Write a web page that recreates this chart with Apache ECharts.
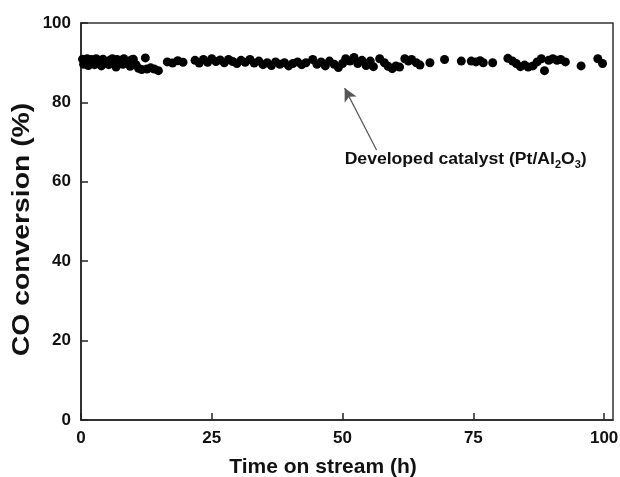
<!DOCTYPE html>
<html><head><meta charset="utf-8">
<script src="https://cdn.jsdelivr.net/npm/echarts@6/dist/echarts.min.js"></script>
<style>html,body{margin:0;padding:0;background:#fff}#c{width:620px;height:477px}</style>
</head><body><div id="c"></div>
<script>
var timeHours = [0.3,0.8,1.2,1.6,2.0,2.4,2.9,3.3,3.7,4.2,4.6,5.1,5.5,6.0,6.4,6.9,7.3,7.8,8.2,8.7,9.1,9.6,10.0,
  0.5,1.4,2.6,3.9,5.3,6.7,8.0,9.4,
  10.5,11.0,11.6,12.3,12.6,13.3,14.0,14.8,
  16.5,17.5,18.5,19.5,
  21.8,22.6,23.4,24.2,25.0,25.8,26.6,27.4,28.2,29.0,29.8,30.6,31.4,32.3,33.1,34.0,34.8,
  35.6,36.4,37.2,38.0,38.9,39.7,40.5,41.4,42.2,43.0,
  44.3,45.1,45.9,46.7,47.5,48.4,49.2,50.0,
  50.6,51.4,52.2,52.9,53.7,54.5,55.3,55.9,57.1,58.0,58.7,59.5,60.2,60.9,61.9,62.6,63.2,64.1,64.8,66.7,69.5,72.7,
  74.6,75.5,76.3,76.9,78.7,81.6,82.5,83.2,84.0,84.8,85.5,86.4,87.2,88.0,88.6,89.4,90.2,91.0,91.7,92.6,95.6,98.8,99.7];
var coConversion = [90.9,90.3,91.0,90.2,90.8,90.0,91.0,90.4,89.9,90.9,90.3,89.8,90.6,91.0,90.1,90.8,89.9,90.5,91.0,90.2,89.8,90.7,90.9,
  89.6,89.3,89.5,89.2,89.5,88.9,89.6,89.1,
  89.5,88.6,88.3,91.2,88.4,88.7,88.4,88.0,
  90.2,89.9,90.5,90.1,
  90.6,89.9,90.8,90.1,91.0,90.3,90.7,90.0,90.8,90.3,89.8,90.6,90.1,90.8,89.9,90.4,89.5,
  90.0,89.3,90.2,89.6,90.0,89.2,89.8,90.2,89.5,90.0,
  90.8,89.6,90.2,89.2,90.4,89.6,88.8,89.8,
  91.0,90.4,91.3,89.8,90.6,89.3,90.4,89.0,91.0,90.0,89.1,88.5,89.2,88.9,91.0,90.4,90.8,90.0,89.4,90.0,90.8,90.4,
  90.4,90.2,90.5,90.0,90.0,91.1,90.4,89.8,89.0,89.4,88.9,89.2,90.2,91.0,88.0,90.6,91.0,90.6,90.8,90.2,89.2,91.0,89.8];
var xTicks = [0,25,50,75,100];
var yTicks = [0,20,40,60,80,100];
var yTitle = 'CO conversion (%)';
var xTitle = 'Time on stream (h)';
var noteText = 'Developed catalyst (Pt/Al';
var arrowFrom = [56.5,68];
var arrowTo = [50.4,83.6];
var notePos = [50.4,65.5];

var pts = timeHours.map(function(t,i){return [t, coConversion[i]];});
var chart = echarts.init(document.getElementById('c'), null, {renderer:'canvas'});
var F = '"Liberation Sans", Arial, sans-serif';
chart.setOption({
  animation:false,
  backgroundColor:'#fff',
  grid:{left:81,right:7,top:23,bottom:57,containLabel:false,outerBoundsMode:'none',
    show:true,borderColor:'#333',borderWidth:1.5,backgroundColor:'transparent'},
  xAxis:{type:'value',min:0,max:101.7,interval:25,
    name:xTitle,nameLocation:'middle',nameGap:37,
    nameTextStyle:{fontFamily:F,fontWeight:'bold',fontSize:21,color:'#111',padding:[0,48,0,0]},
    axisLine:{show:true,lineStyle:{color:'#222',width:1.5}},
    axisTick:{show:true,inside:true,length:7,lineStyle:{color:'#222',width:1.5}},
    axisLabel:{fontFamily:F,fontWeight:'bold',fontSize:17,color:'#111',margin:10,showMaxLabel:false,
      formatter:function(v){return xTicks.indexOf(v)>=0?String(v):'';}},
    splitLine:{show:false}},
  yAxis:{type:'value',min:0,max:100,interval:20,
    axisLine:{show:true,lineStyle:{color:'#222',width:1.5}},
    axisTick:{show:true,inside:true,length:7,lineStyle:{color:'#222',width:1.5}},
    axisLabel:{fontFamily:F,fontWeight:'bold',fontSize:17,color:'#111',margin:10,
      formatter:function(v){return yTicks.indexOf(v)>=0?String(v):'';}},
    splitLine:{show:false}},
  series:[{type:'scatter',data:pts,symbol:'circle',symbolSize:9,
    itemStyle:{color:'#000',opacity:1},
    markLine:{silent:true,symbol:['none','arrow'],symbolSize:[10,13],
      lineStyle:{color:'#555',width:1.2,type:'solid'},label:{show:false},
      data:[[{coord:arrowFrom},{coord:arrowTo}]]}
  }]
});
var np = chart.convertToPixel({gridIndex:0}, notePos);
var gb = chart.getModel().getComponent('grid').coordinateSystem.getRect();
chart.setOption({graphic:[
  {type:'text',x:22,y:gb.y+gb.height/2+8,rotation:Math.PI/2,scaleX:1.18,
    style:{text:yTitle,fontFamily:F,fontWeight:'bold',fontSize:24,fill:'#111',align:'center',verticalAlign:'middle'}},
  {type:'text',x:np[0],y:np[1],scaleX:1.1,
    style:{text:noteText+'{s|2}O{s|3})',fontFamily:F,fontWeight:'bold',fontSize:16,fill:'#111',align:'left',verticalAlign:'middle',
      rich:{s:{fontFamily:F,fontWeight:'bold',fontSize:10,fill:'#111',verticalAlign:'bottom',padding:[11,0,0,0]}}}}
]});
</script></body></html>
